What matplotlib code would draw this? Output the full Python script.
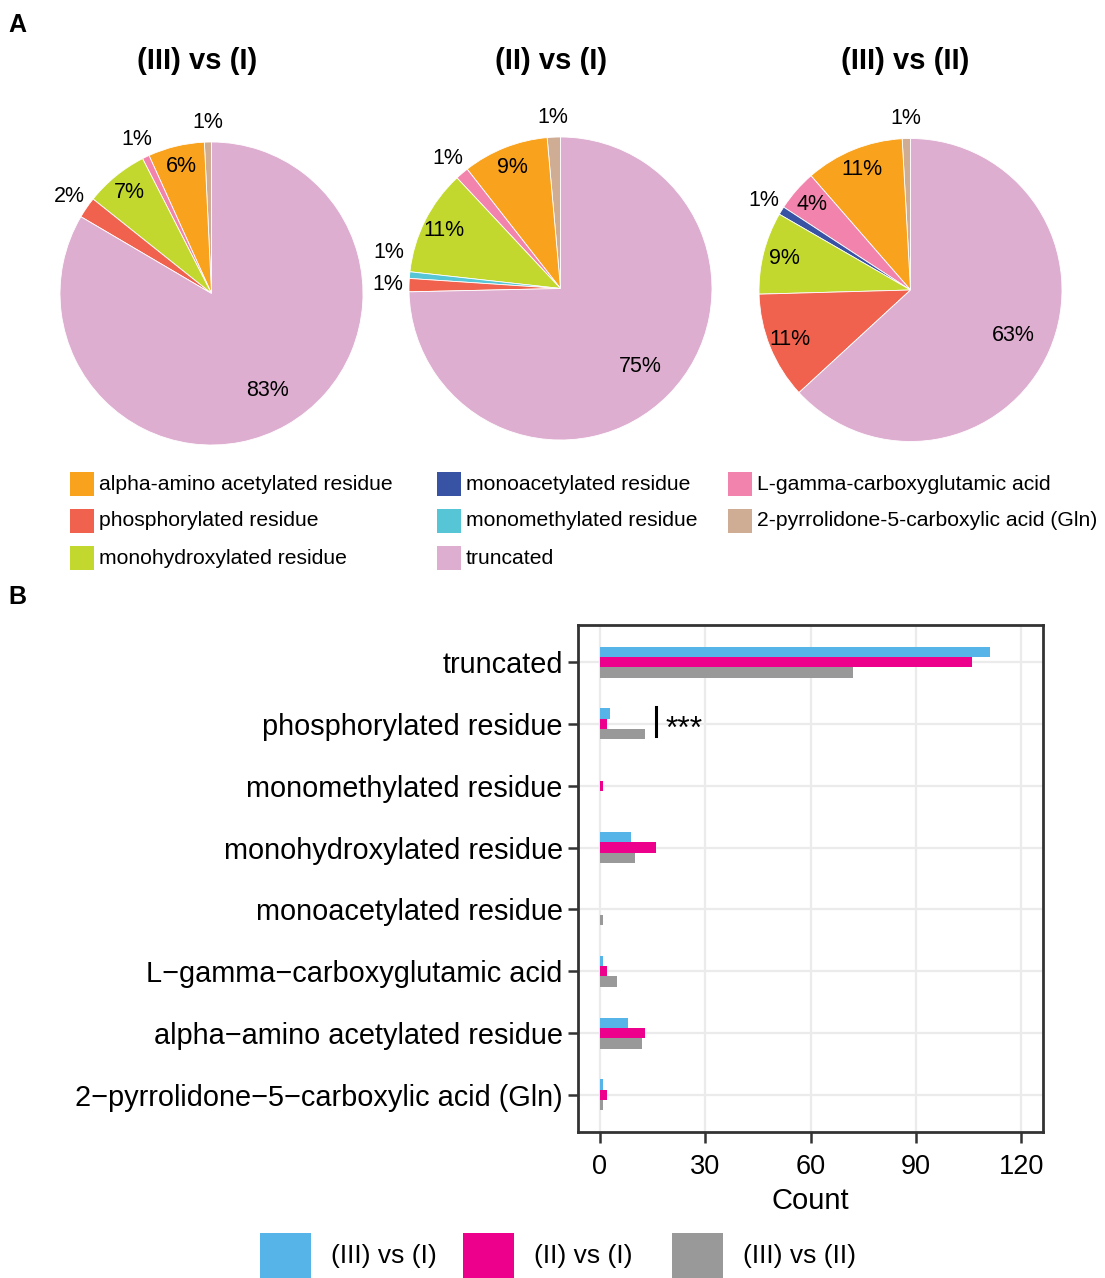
import numpy as np
import matplotlib
matplotlib.use('Agg')
import matplotlib.pyplot as plt
from matplotlib.patches import Rectangle

plt.rcParams['font.family'] = ['Liberation Sans', 'DejaVu Sans']

# modification types, bottom-to-top in panel B / counter-clockwise from 12 o'clock in panel A
mods = ['2-pyrrolidone-5-carboxylic acid (Gln)', 'alpha-amino acetylated residue',
        'L-gamma-carboxyglutamic acid', 'monoacetylated residue', 'monohydroxylated residue',
        'monomethylated residue', 'phosphorylated residue', 'truncated']
mod_colors = ['#CFAD94', '#F8A21E', '#F283AC', '#3953A4', '#C3D82E', '#56C5D6', '#F0624D', '#DEAED0']
legend_order = ['alpha-amino acetylated residue', 'phosphorylated residue', 'monohydroxylated residue',
                'monoacetylated residue', 'monomethylated residue', 'truncated',
                'L-gamma-carboxyglutamic acid', '2-pyrrolidone-5-carboxylic acid (Gln)']

comparisons = ['(III) vs (I)', '(II) vs (I)', '(III) vs (II)']
comp_colors = ['#56B4E9', '#EC008C', '#999999']

count_3v1 = [1, 8, 1, 0, 9, 0, 3, 111]
count_2v1 = [2, 13, 2, 0, 16, 1, 2, 106]
count_3v2 = [1, 12, 5, 1, 10, 0, 13, 72]
counts = [count_3v1, count_2v1, count_3v2]

W, H = 1105, 1278
fig = plt.figure(figsize=(W / 100, H / 100), dpi=100)


def fx(x):
    return x / W


def fy(y):
    return 1 - y / H


fig.text(fx(8), fy(32), 'A', fontsize=18, fontweight='bold', va='baseline')
fig.text(fx(8), fy(604), 'B', fontsize=18, fontweight='bold', va='baseline')

# ---- panel A: pies
R = 151.5
centers = [(211.5, 293.5), (560.5, 288.5), (910.5, 290.0)]
title_x = [197.5, 551, 905]
half = 200

for k, (vals, (cx, cy)) in enumerate(zip(counts, centers)):
    ax = fig.add_axes([fx(cx - half), fy(cy + half), 2 * half / W, 2 * half / H])
    keep = [i for i, v in enumerate(vals) if v > 0]
    v = [vals[i] for i in keep]
    cols = [mod_colors[i] for i in keep]
    wedges, _ = ax.pie(v, colors=cols, startangle=90, counterclock=True, radius=1,
                       wedgeprops=dict(edgecolor='white', linewidth=0.6))
    lim = half / R
    ax.set_xlim(-lim, lim)
    ax.set_ylim(-lim, lim)
    ax.set_aspect('equal')
    ax.axis('off')

    total = sum(v)
    outside = []
    for w, val, idx in zip(wedges, v, keep):
        pct = int(round(100 * val / total))
        ang = np.deg2rad((w.theta1 + w.theta2) / 2)
        if mods[idx] == 'truncated':
            d = 0.74
        elif pct >= 4:
            d = 0.86
        else:
            outside.append([1.14 * np.cos(ang), 1.13 * np.sin(ang), pct])
            continue
        ax.text(d * np.cos(ang), d * np.sin(ang), f'{pct}%', fontsize=15.5,
                ha='center', va='center')
    # push crowded outer labels apart vertically
    outside.sort(key=lambda t: t[1])
    for i in range(1, len(outside)):
        if abs(outside[i][0] - outside[i - 1][0]) < 0.3 and outside[i][1] - outside[i - 1][1] < 0.21:
            outside[i][1] = outside[i - 1][1] + 0.21
    for x, y, pct in outside:
        ax.text(x, y, f'{pct}%', fontsize=15.5, ha='center', va='center', clip_on=False)

    fig.text(fx(title_x[k]), fy(61), comparisons[k], fontsize=21, fontweight='bold',
             ha='center', va='center')

# legend for the modification colours
col_x = [70, 437, 728]
row_y = [484, 521, 558]
for j, name in enumerate(legend_order):
    c, r = divmod(j, 3)
    x0, yc = col_x[c], row_y[r]
    fig.add_artist(Rectangle((fx(x0), fy(yc + 12)), 24 / W, 24 / H, transform=fig.transFigure,
                             facecolor=mod_colors[mods.index(name)], edgecolor='none'))
    fig.text(fx(x0 + 29), fy(yc), name, fontsize=15.2, va='center', ha='left')

# ---- panel B: grouped bars
ax = fig.add_axes([fx(578), fy(1132), (1043 - 578) / W, (1132 - 625) / H])
ypos = np.arange(1, len(mods) + 1)
bh = 1 / 6
for k, vals in enumerate(counts):
    ax.barh(ypos + (1 - k) * bh, vals, height=bh, color=comp_colors[k], zorder=2)

ax.set_ylim(0.4, len(mods) + 0.6)
ax.set_xlim(-6.2, 126.2)
ax.set_xticks([0, 30, 60, 90, 120])
ax.set_yticks(ypos)
ax.set_yticklabels([m.replace('-', '\u2212') for m in mods])
ax.grid(color='#EBEBEB', linewidth=1.6)
ax.set_axisbelow(True)
for s in ax.spines.values():
    s.set_color('#333333')
    s.set_linewidth(2.0)
ax.tick_params(axis='y', length=7, width=1.8, color='#333333', labelsize=20.8, pad=4)
ax.tick_params(axis='x', length=8, width=1.8, color='#333333', labelsize=19.5, pad=8)
ax.set_xlabel('Count', fontsize=21, labelpad=5)

# significance mark between the phosphorylated groups
py = ypos[mods.index('phosphorylated residue')]
ax.plot([16.1, 16.1], [py - 0.2, py + 0.28], color='black', lw=2.2, zorder=3)
ax.text(18.7, py - 0.1, '***', fontsize=23, ha='left', va='center')

# legend for comparisons
sq_x = [260, 463, 672]
for k, name in enumerate(comparisons):
    fig.add_artist(Rectangle((fx(sq_x[k]), fy(1284)), 51 / W, 51 / H, transform=fig.transFigure,
                             facecolor=comp_colors[k], edgecolor='none'))
    fig.text(fx(sq_x[k] + 71), fy(1256), name, fontsize=19, va='center', ha='left')

fig.savefig('out.png', dpi=100)
